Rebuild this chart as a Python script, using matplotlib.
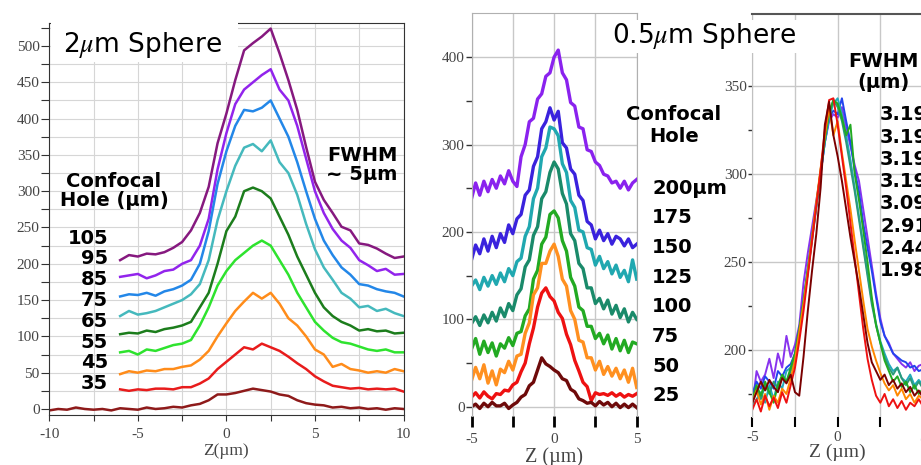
import matplotlib.pyplot as plt
import matplotlib.patches as mpatches
import numpy as np

plt.rcParams['font.family'] = ['DejaVu Sans']
plt.rcParams['mathtext.fontset'] = 'stix'

W, H = 921, 465

# ---- 2um sphere (left panel) ----
z_a = np.arange(-6, 10.01, 0.5)
z_a_full = np.arange(-10, 10.01, 0.5)
holes_a = ['105', '95', '85', '75', '65', '55', '45', '35']
colors_a = ['#86197f', '#9224ec', '#2387e8', '#45b9bd', '#1c7d1c', '#2ee32e', '#ff8c1a', '#e81c1c']
curves_a = [
    [205, 212, 210, 214, 213, 216, 222, 230, 246, 270, 306, 366, 407, 453, 494, 504, 513, 524,
     490, 453, 412, 361, 313, 288, 270, 251, 246, 228, 226, 221, 214, 208, 210],
    [182, 184, 186, 180, 184, 190, 192, 200, 205, 225, 262, 330, 380, 420, 440, 450, 460, 468,
     440, 425, 390, 345, 300, 270, 248, 232, 222, 205, 198, 190, 193, 185, 186],
    [155, 158, 157, 160, 156, 162, 165, 170, 178, 200, 245, 310, 355, 390, 412, 410, 415, 425,
     400, 375, 340, 300, 262, 232, 212, 195, 185, 172, 170, 165, 162, 160, 155],
    [128, 135, 130, 132, 135, 140, 145, 150, 158, 172, 205, 260, 300, 335, 360, 365, 355, 370,
     340, 325, 295, 255, 220, 195, 178, 160, 152, 140, 142, 135, 138, 132, 128],
    [103, 105, 104, 108, 106, 110, 112, 115, 120, 140, 160, 200, 245, 265, 300, 305, 300, 290,
     265, 240, 210, 185, 160, 140, 128, 120, 115, 108, 110, 107, 108, 104, 105],
    [78, 80, 75, 82, 80, 84, 88, 90, 95, 115, 140, 170, 190, 205, 215, 225, 232, 225,
     205, 185, 160, 140, 120, 108, 98, 92, 90, 86, 82, 80, 82, 78, 78],
    [48, 52, 50, 53, 52, 55, 55, 58, 60, 68, 80, 100, 118, 135, 148, 160, 152, 160,
     145, 125, 115, 100, 82, 75, 58, 62, 55, 53, 50, 52, 50, 55, 52],
    [27, 25, 27, 26, 28, 28, 27, 30, 30, 35, 42, 55, 65, 75, 85, 82, 90, 85,
     80, 72, 63, 55, 45, 38, 32, 30, 28, 29, 27, 28, 27, 28, 24],
]
base_a = [-2, 0, -1, 2, 0, -1, 0, -2, 1, 0, -1, 2, 0, 1, 3, 2, 5, 7, 12, 20, 20,
          22, 25, 28, 26, 24, 20, 18, 12, 8, 6, 5, 2, 3, 1, 2, 0, 1, -1, 1, 0]

# ---- 0.5um sphere (middle panel) ----
z_b = np.arange(-5, 5.01, 0.25)
holes_b = ['200µm', '175', '150', '125', '100', '75', '50', '25']
colors_b = ['#8a22ee', '#3a22dd', '#20a8b0', '#1a8a6a', '#22aa22', '#ff9020', '#ee1111', '#6e0a0a']
curves_b = [
    [238, 256, 242, 258, 246, 260, 250, 264, 255, 270, 258, 252, 286, 300, 326, 330, 352, 358, 378, 382, 400,
     408, 382, 374, 348, 344, 320, 318, 294, 292, 280, 276, 266, 264, 256, 258, 250, 258, 248, 256, 260],
    [168, 185, 175, 192, 178, 195, 182, 198, 188, 208, 198, 215, 220, 242, 248, 275, 286, 318, 326, 342, 328,
     338, 302, 296, 272, 266, 242, 236, 212, 208, 192, 202, 190, 198, 186, 195, 192, 184, 192, 182, 186],
    [138, 145, 134, 148, 138, 150, 140, 153, 143, 158, 150, 166, 170, 195, 206, 238, 250, 286, 296, 320, 318,
     310, 278, 268, 236, 228, 202, 200, 182, 180, 162, 172, 158, 166, 152, 162, 148, 156, 143, 168, 146],
    [95, 103, 93, 105, 96, 108, 98, 113, 103, 118, 110, 128, 135, 160, 168, 196, 206, 238, 246, 268, 280,
     272, 244, 232, 198, 190, 164, 158, 136, 136, 118, 124, 112, 122, 106, 116, 102, 112, 97, 108, 100],
    [66, 78, 60, 75, 62, 73, 58, 72, 67, 79, 70, 84, 86, 104, 112, 146, 156, 186, 194, 220, 224,
     216, 190, 178, 148, 138, 114, 110, 92, 92, 78, 84, 72, 82, 66, 78, 64, 76, 62, 74, 72],
    [30, 45, 32, 48, 27, 41, 25, 43, 39, 52, 42, 58, 60, 84, 96, 128, 136, 164, 164, 178, 186,
     172, 146, 138, 110, 100, 76, 74, 56, 56, 42, 52, 37, 46, 35, 44, 32, 42, 28, 44, 22],
    [11, 16, 10, 17, 12, 9, 15, 14, 19, 18, 25, 28, 40, 50, 72, 90, 114, 130, 136, 126, 121,
     108, 101, 83, 71, 53, 41, 28, 23, 7, 16, 14, 15, 13, 16, 12, 15, 11, 14, 12, 15],
    [0, 3, -2, 4, 0, 5, 1, 1, 4, -2, 2, 5, 11, 14, 24, 28, 42, 56, 49, 46, 42,
     39, 32, 30, 20, 17, 9, 7, 4, 5, 1, 6, 2, 5, 0, 4, -1, 3, -1, 3, -1],
]

# ---- normalised profiles (right panel) ----
z_c = np.arange(-5, 5.01, 0.25)
fwhm = ['3.19', '3.19', '3.19', '3.19', '3.09', '2.91', '2.44', '1.98']
colors_c = ['#8833ee', '#2244ee', '#22aabb', '#2a9a7a', '#22aa22', '#ff8800', '#ee1111', '#7a0000']
curves_c = [
    [168, 188, 182, 186, 195, 184, 198, 190, 208, 196, 203, 214, 238, 255, 270, 285, 300, 318, 330, 334, 332,
     338, 326, 316, 305, 296, 280, 264, 248, 232, 218, 208, 204, 198, 195, 192, 190, 193, 188, 191, 192],
    [175, 182, 178, 185, 182, 178, 188, 185, 190, 192, 198, 212, 228, 246, 264, 282, 300, 318, 332, 336, 334,
     343, 330, 318, 302, 290, 272, 258, 245, 230, 216, 208, 203, 198, 196, 194, 193, 190, 191, 188, 189],
    [168, 172, 176, 170, 180, 172, 182, 178, 188, 190, 196, 210, 226, 244, 263, 282, 300, 318, 332, 340, 343,
     334, 322, 308, 292, 276, 260, 244, 228, 215, 205, 198, 192, 188, 190, 184, 182, 186, 180, 183, 180],
    [170, 178, 172, 180, 175, 182, 178, 185, 182, 188, 195, 210, 226, 244, 262, 281, 300, 320, 334, 342, 338,
     330, 318, 304, 290, 274, 258, 242, 226, 214, 204, 196, 190, 186, 190, 184, 180, 184, 178, 182, 178],
    [172, 180, 174, 182, 176, 170, 180, 186, 182, 190, 198, 212, 228, 246, 264, 283, 302, 320, 335, 342, 340,
     332, 322, 328, 300, 285, 268, 250, 230, 214, 204, 194, 188, 182, 185, 179, 182, 176, 180, 175, 178],
    [170, 177, 169, 175, 166, 174, 170, 178, 175, 184, 194, 210, 226, 244, 264, 284, 303, 322, 338, 322, 330,
     312, 296, 280, 262, 245, 228, 212, 202, 194, 187, 181, 177, 180, 174, 178, 172, 175, 170, 174, 172],
    [166, 172, 165, 174, 168, 173, 167, 176, 170, 180, 190, 205, 222, 242, 262, 282, 302, 325, 342, 343, 328,
     310, 292, 272, 252, 232, 212, 195, 183, 174, 170, 175, 168, 172, 167, 171, 166, 170, 168, 172, 168],
    [170, 176, 182, 177, 183, 179, 176, 184, 181, 186, 176, 174, 196, 222, 245, 266, 292, 328, 341, 322, 310,
     296, 280, 264, 250, 236, 220, 204, 193, 188, 183, 186, 180, 183, 178, 181, 176, 179, 174, 177, 173],
]


def fx(x):
    return x / W


def fy(y):
    return 1 - y / H


serif = 'Liberation Serif'
tick_col = '#444444'
tick_size = 11

fig = plt.figure(figsize=(W / 100, H / 100), dpi=100)

# left panel
ax1 = fig.add_axes([fx(49.3), fy(415), 354.2 / W, 392 / H])
for c, y in zip(colors_a, curves_a):
    ax1.plot(z_a, y, color=c, lw=1.8)
ax1.plot(z_a_full, base_a, color='#8e1a1a', lw=1.8)
ax1.set_xlim(-10, 10)
ax1.set_ylim(-8.3, 531.7)
ax1.set_xticks([-10, -5, 0, 5, 10], ['-10', '-5', '0', '5', '10'], fontfamily=serif)
ax1.set_xticks(np.arange(-7.5, 10, 5), minor=True)
ax1.set_yticks(np.arange(0, 501, 50), [str(v) for v in range(0, 501, 50)], fontfamily=serif)
ax1.set_yticks(np.arange(25, 526, 50), minor=True)
ax1.grid(True, which='both', color='#d6d6d6', lw=0.8)
ax1.set_axisbelow(True)
ax1.tick_params(axis='x', which='both', direction='out', length=4, width=0.8, color='#333333',
                labelsize=tick_size, labelcolor=tick_col, pad=5)
ax1.tick_params(axis='y', which='both', direction='out', length=6, width=0.8, color='#333333',
                labelsize=tick_size, labelcolor=tick_col, pad=1)
for s in ax1.spines.values():
    s.set_color('#333333')
ax1.set_xlabel('Z(µm)', fontfamily=serif, fontsize=12.5, color=tick_col, labelpad=2)
# white block behind the title hides the grid and the left part of the top frame
ax1.add_patch(mpatches.Rectangle((0.004, 0.90), 0.529, 0.13, transform=ax1.transAxes,
                                 facecolor='white', edgecolor='none', clip_on=False, zorder=5))
ax1.text((63 - 49.3) / 354.2, 1 - (52.5 - 23) / 392, '2$\\mu$m Sphere', transform=ax1.transAxes,
         fontsize=19, ha='left', va='baseline', zorder=6)

# middle panel
ax2 = fig.add_axes([fx(471.5), fy(416), 165.2 / W, (416 - 13.3) / H])
for c, y in zip(colors_b, curves_b):
    ax2.plot(z_b, y, color=c, lw=2.4)
ax2.set_xlim(-5, 5)
ax2.set_ylim(-10.6, 450.1)
ax2.set_xticks([-5, 0, 5], ['-5', '0', '5'], fontfamily=serif)
ax2.set_xticks([-2.5, 2.5], minor=True)
ax2.set_yticks([0, 100, 200, 300, 400], ['0', '100', '200', '300', '400'], fontfamily=serif)
ax2.set_yticks([50, 150, 250, 350], minor=True)
ax2.grid(True, which='major', axis='y', color='#c8c8c8', lw=1)
ax2.grid(True, which='both', axis='x', color='#c8c8c8', lw=1)
ax2.set_axisbelow(True)
ax2.tick_params(axis='x', which='both', direction='out', length=8, width=2, color='black',
                labelsize=tick_size, labelcolor=tick_col, pad=4)
ax2.tick_params(axis='y', which='both', direction='out', length=4, width=1, color='#333333',
                labelsize=tick_size, labelcolor=tick_col, pad=1)
for s in ax2.spines.values():
    s.set_color('#b0b0b0')
ax2.spines['bottom'].set_visible(False)
ax2.set_xlabel('Z (µm)', fontfamily=serif, fontsize=14.5, color=tick_col, labelpad=1)

# right panel
ax3 = fig.add_axes([fx(752.3), fy(417), 170.7 / W, (417 - 14) / H])
for c, y in zip(colors_c, curves_c):
    ax3.plot(z_c, y, color=c, lw=1.4)
ax3.set_xlim(-5, 5)
ax3.set_ylim(161.9, 390.9)
ax3.set_xticks([-5, 0, 5], ['-5', '0', '5'], fontfamily=serif)
ax3.set_xticks([-2.5, 2.5], minor=True)
ax3.set_yticks([200, 250, 300, 350], ['200', '250', '300', '350'], fontfamily=serif)
ax3.set_yticks([175, 225, 275, 325], minor=True)
ax3.grid(True, which='major', axis='y', color='#c8c8c8', lw=1)
ax3.grid(True, which='both', axis='x', color='#c8c8c8', lw=1)
ax3.set_axisbelow(True)
ax3.tick_params(axis='x', which='both', direction='out', length=7, width=1.5, color='black',
                labelsize=tick_size, labelcolor=tick_col, pad=3)
ax3.tick_params(axis='y', which='both', direction='out', length=3, width=1, color='#333333',
                labelsize=tick_size, labelcolor=tick_col, pad=1)
ax3.spines['left'].set_color('#c0c0c0')
ax3.spines['top'].set_color('#555555')
ax3.spines['top'].set_linewidth(1.5)
ax3.spines['bottom'].set_visible(False)
ax3.spines['right'].set_visible(False)
ax3.set_xlabel('Z (µm)', fontfamily=serif, fontsize=14, color=tick_col, labelpad=0)

# annotations
bold = dict(fontsize=14, fontweight='bold', color='black')
fig.text(fx(114), fy(191), 'Confocal\nHole (µm)', ha='center', va='center', linespacing=1.0, **bold)
fig.text(fx(362), fy(165), 'FWHM\n~ 5µm', ha='center', va='center', linespacing=1.0, **bold)
for i, t in enumerate(holes_a):
    fig.text(fx(108), fy(238 + 20.8 * i), t, ha='right', va='center', **bold)

fig.text(fx(611.7), fy(43.3), '0.5$\\mu$m Sphere', fontsize=19, ha='left', va='baseline',
         bbox=dict(facecolor='white', edgecolor='none', pad=1))
fig.text(fx(674), fy(125), 'Confocal\nHole', ha='center', va='center', linespacing=1.2, **bold)
for i, t in enumerate(holes_b):
    fig.text(fx(652), fy(188 + 29.7 * i), t, ha='left', va='center', **bold)

fig.text(fx(883), fy(72), 'FWHM\n(µm)', ha='center', va='center', linespacing=1.15, **bold)
for i, t in enumerate(fwhm):
    fig.text(fx(880), fy(115 + 22.2 * i), t, ha='left', va='center', **bold)

fig.savefig('out.png', dpi=100)
